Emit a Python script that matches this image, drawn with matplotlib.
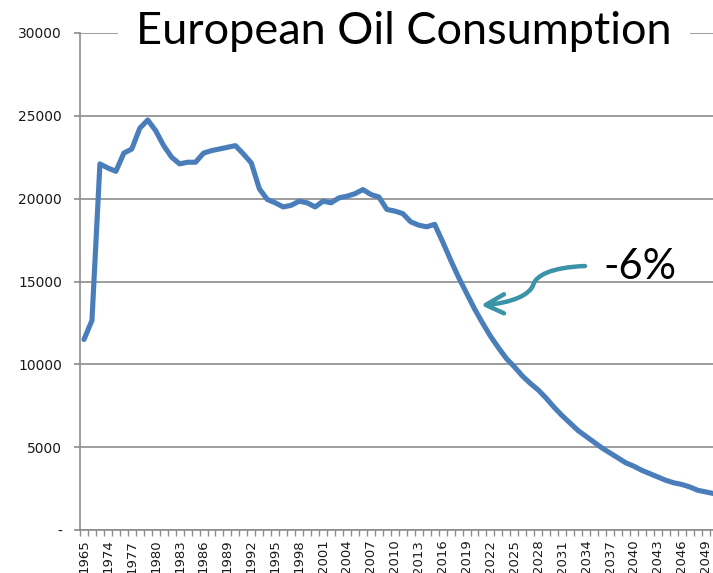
import matplotlib
matplotlib.use("Agg")
from matplotlib import pyplot as plt
from matplotlib.path import Path
from matplotlib.patches import PathPatch

# categories (every third one gets a label, like the original sheet)
years = [1965, 1972, 1973] + list(range(1974, 2051))
consumption = [
    11500, 12650, 22100, 21850, 21650, 22750, 23000, 24250, 24750, 24100,
    23200, 22500, 22100, 22200, 22200, 22750, 22900, 23000, 23100, 23200,
    22700, 22150, 20600, 19950, 19750, 19500, 19600, 19850, 19750, 19500,
    19850, 19750, 20050, 20150, 20300, 20550, 20250, 20100, 19350, 19250,
    19100, 18600, 18400, 18300, 18450, 17400, 16300, 15250, 14300, 13350,
    12500, 11700, 11000, 10350, 9850, 9300, 8850, 8450, 7950, 7400,
    6900, 6450, 6000, 5650, 5300, 4950, 4650, 4350, 4050, 3850,
    3600, 3400, 3200, 3000, 2850, 2750, 2600, 2400, 2300, 2200,
]
y_ticks = [0, 5000, 10000, 15000, 20000, 25000, 30000]
y_labels = ["-", "5000", "10000", "15000", "20000", "25000", "30000"]
title = "European Oil Consumption"
note = "-6%"

grid_col = "#8c8c8c"
line_col = "#4a7ebb"
arrow_col = "#3a93a6"

fig = plt.figure(figsize=(7.13, 5.73), dpi=100)
ax = fig.add_axes([80 / 713, 1 - 530 / 573, 637.6 / 713, 497 / 573])

x = list(range(len(years)))
ax.plot(x, consumption, color=line_col, lw=3.7, solid_joinstyle="round",
        solid_capstyle="round", zorder=3)

ax.set_xlim(-0.5, len(years) - 0.5)
ax.set_ylim(0, 30000)

ax.set_yticks(y_ticks)
ax.set_yticklabels(y_labels)
ax.tick_params(axis="y", length=4, width=1.2, color=grid_col, pad=9,
               labelsize=10, labelcolor="#1a1a1a")

ax.set_xticks(x[::3])
ax.set_xticklabels([str(v) for v in years[::3]], rotation=90)
ax.set_xticks([i - 0.5 for i in x] + [len(x) - 0.5], minor=True)
ax.tick_params(axis="x", which="major", length=0, pad=7, labelsize=9.5,
               labelcolor="#1a1a1a")
ax.tick_params(axis="x", which="minor", length=4, width=1.0, color=grid_col)

ax.grid(axis="y", color=grid_col, lw=1.2, zorder=1)
ax.set_axisbelow(True)
for s in ["top", "right"]:
    ax.spines[s].set_visible(False)
for s in ["left", "bottom"]:
    ax.spines[s].set_color(grid_col)
    ax.spines[s].set_linewidth(1.2)

fig.text(404 / 713, 1 - 31 / 573, title, ha="center", va="center",
         fontsize=32.5, family="Lato", color="black",
         bbox=dict(facecolor="white", edgecolor="none", pad=13))

ax.text(69.8, 15850, note, ha="center", va="center", fontsize=30,
        family="Lato", color="black")

# curved arrow pointing at the decline
verts = [(62.86, 15935), (58.5, 15850), (56.8, 15350), (56.4, 14850),
         (56.0, 14150), (53.5, 13720), (50.6, 13590)]
codes = [Path.MOVETO, Path.CURVE4, Path.CURVE4, Path.CURVE4,
         Path.CURVE4, Path.CURVE4, Path.CURVE4]
ax.add_patch(PathPatch(Path(verts, codes), facecolor="none",
                       edgecolor=arrow_col, lw=3.2, capstyle="round", zorder=4))
ax.plot([52.7, 50.4, 52.7], [14230, 13585, 13080], color=arrow_col, lw=3.2,
        solid_capstyle="round", solid_joinstyle="round", zorder=4)

fig.savefig("out.png", dpi=100)
